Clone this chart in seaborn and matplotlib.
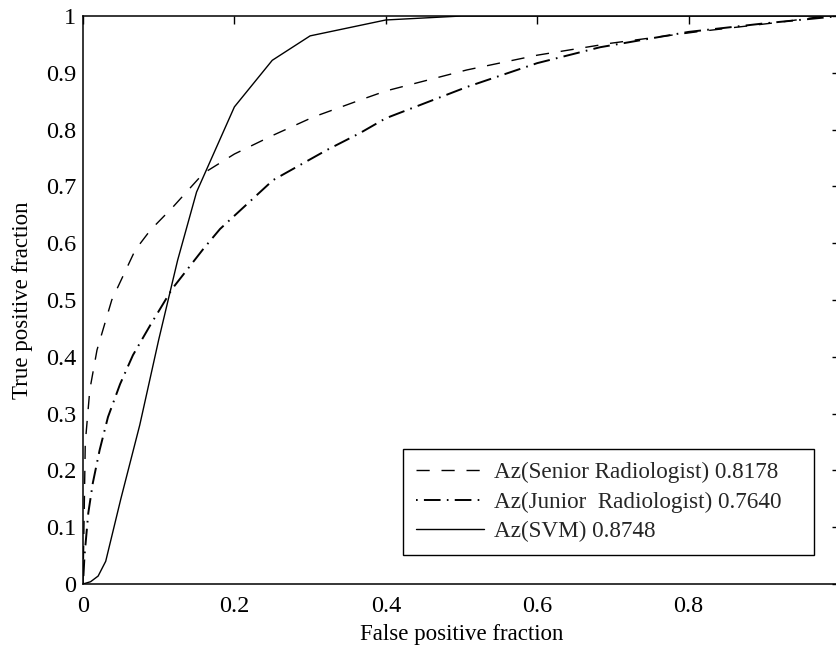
import matplotlib
matplotlib.use("Agg")
import matplotlib.pyplot as plt
import seaborn as sns
import pandas as pd
from matplotlib.ticker import FormatStrFormatter

# ROC operating points (false positive fraction, true positive fraction)
senior_fpf = [0, 0.0015, 0.003, 0.009, 0.0185, 0.038, 0.069, 0.089, 0.119, 0.159,
              0.2, 0.251, 0.304, 0.366, 0.4, 0.507, 0.6, 0.697, 0.81, 0.92, 0.97, 1.0]
senior_tpf = [0, 0.12, 0.248, 0.342, 0.412, 0.5, 0.588, 0.623, 0.664, 0.723,
              0.757, 0.79, 0.822, 0.852, 0.868, 0.905, 0.931, 0.952, 0.972, 0.989, 0.998, 1.0]

junior_fpf = [0, 0.002, 0.007, 0.013, 0.022, 0.033, 0.049, 0.066, 0.089, 0.118, 0.159,
              0.181, 0.251, 0.322, 0.366, 0.4, 0.507, 0.6, 0.683, 0.8, 0.9, 1.0]
junior_tpf = [0, 0.05, 0.125, 0.178, 0.236, 0.294, 0.352, 0.403, 0.456, 0.52, 0.59,
              0.625, 0.711, 0.764, 0.794, 0.82, 0.875, 0.917, 0.945, 0.972, 0.987, 1.0]

svm_fpf = [0, 0.01, 0.02, 0.03, 0.05, 0.075, 0.1, 0.125, 0.15, 0.2, 0.25, 0.3, 0.4, 0.5, 1.0]
svm_tpf = [0, 0.004, 0.014, 0.04, 0.15, 0.28, 0.43, 0.57, 0.69, 0.84, 0.922, 0.965, 0.993, 1.0, 1.0]

labels = ["Az(Senior Radiologist) 0.8178",
          "Az(Junior  Radiologist) 0.7640",
          "Az(SVM) 0.8748"]

x_ticks = [0, 0.2, 0.4, 0.6, 0.8]
y_ticks = [0, 0.1, 0.2, 0.3, 0.4, 0.5, 0.6, 0.7, 0.8, 0.9, 1.0]

sns.set_theme(style="white")
plt.rcParams["font.family"] = ["Liberation Serif", "DejaVu Serif"]
plt.rcParams["lines.scale_dashes"] = False

fig = plt.figure(figsize=(8.36, 6.47), dpi=100)
ax = fig.add_axes([83 / 836, 63 / 647, 757 / 836, 568 / 647])

series = [
    (senior_fpf, senior_tpf, labels[0], (0, (9.5, 8.5)), 1.0),
    (junior_fpf, junior_tpf, labels[1], (16.5, (12, 4.5, 1.2, 4.5)), 1.4),
    (svm_fpf, svm_tpf, labels[2], "-", 1.0),
]
for fpf, tpf, lab, ls, lw in series:
    df = pd.DataFrame({"fpf": fpf, "tpf": tpf})
    sns.lineplot(data=df, x="fpf", y="tpf", ax=ax, color="black", linestyle=ls,
                 linewidth=lw, estimator=None, sort=False, label=lab)

ax.set_xlim(0, 1)
ax.set_ylim(0, 1)
ax.set_xticks(x_ticks)
ax.set_yticks(y_ticks)
ax.xaxis.set_major_formatter(FormatStrFormatter("%g"))
ax.yaxis.set_major_formatter(FormatStrFormatter("%g"))
ax.tick_params(direction="in", length=6, width=1, top=True, right=True,
               labelsize=17.5, colors="black")
ax.tick_params(axis="x", pad=8.5)
ax.tick_params(axis="y", pad=5)
for s in ax.spines.values():
    s.set_color("black")
    s.set_linewidth(1.1)

ax.set_xlabel("False positive fraction", fontsize=16.5, color="black", labelpad=5)
ax.set_ylabel("True positive fraction", fontsize=16.5, color="black", labelpad=9)

# legend box spans a fixed region in the lower right of the axes
leg = ax.legend(loc="lower left", bbox_to_anchor=(0.4227, 0.051, 0.543, 0.2),
                mode="expand", borderaxespad=0,
                fontsize=16.7, frameon=True, fancybox=False, framealpha=1,
                edgecolor="black", handlelength=2.95, handletextpad=0.42,
                labelspacing=0.36, borderpad=0.55)
leg.get_frame().set_linewidth(1.0)

fig.savefig("out.png", dpi=100)
